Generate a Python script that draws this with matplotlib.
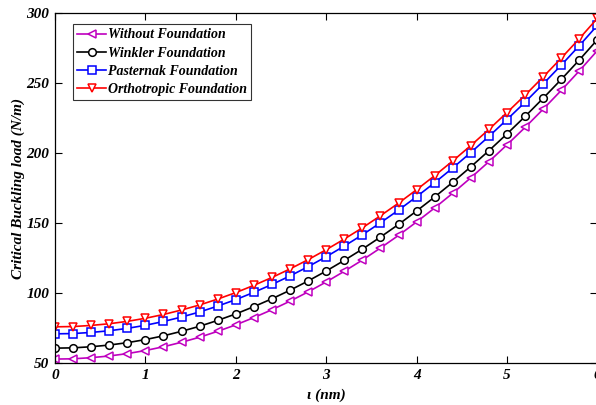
import matplotlib
matplotlib.use("Agg")
import matplotlib.pyplot as plt
import numpy as np

x = [round(0.2 * i, 1) for i in range(31)]
without = [53.0, 53.2, 54.0, 55.2, 56.9, 59.1, 61.8, 65.0, 68.6, 72.8, 77.4, 82.6, 88.2, 94.3, 100.9,
           108.0, 115.6, 123.6, 132.2, 141.2, 150.8, 160.8, 171.3, 182.3, 193.8, 205.8, 218.2, 231.2,
           244.6, 258.5, 273.0]
winkler = [60.8, 61.0, 61.8, 63.0, 64.7, 66.9, 69.6, 72.8, 76.4, 80.6, 85.2, 90.4, 96.0, 102.1, 108.7,
           115.8, 123.4, 131.4, 140.0, 149.0, 158.6, 168.6, 179.1, 190.1, 201.6, 213.6, 226.0, 239.0,
           252.4, 266.3, 280.8]
pasternak = [71.0, 71.2, 72.0, 73.2, 74.9, 77.1, 79.8, 83.0, 86.6, 90.8, 95.4, 100.6, 106.2, 112.3, 118.9,
             126.0, 133.6, 141.6, 150.2, 159.2, 168.8, 178.8, 189.3, 200.3, 211.8, 223.8, 236.2, 249.2,
             262.6, 276.5, 291.0]
orthotropic = [76.0, 76.2, 77.0, 78.2, 79.9, 82.1, 84.8, 88.0, 91.6, 95.8, 100.4, 105.6, 111.2, 117.3, 123.9,
               131.0, 138.6, 146.6, 155.2, 164.2, 173.8, 183.8, 194.3, 205.3, 216.8, 228.8, 241.2, 254.2,
               267.6, 281.5, 296.0]
labels = ["Without Foundation", "Winkler Foundation", "Pasternak Foundation", "Orthotropic Foundation"]
xticks = [0, 1, 2, 3, 4, 5, 6]
yticks = [50, 100, 150, 200, 250, 300]

plt.rcParams['font.family'] = ['Liberation Serif', 'DejaVu Serif']
plt.rcParams['font.weight'] = 'bold'
plt.rcParams['font.style'] = 'italic'

fig = plt.figure(figsize=(5.96, 4.05), dpi=100)
ax = fig.add_axes([0.0923, 0.103, 0.910, 0.8656])

series = [without, winkler, pasternak, orthotropic]
colors = ['#bf00bf', '#000000', '#0000ff', '#ff0000']
markers = ['<', 'o', 's', 'v']
for ys, c, m, lab in zip(series, colors, markers, labels):
    ax.plot(x, ys, color=c, marker=m, markersize=5.5, markerfacecolor='white',
            markeredgecolor=c, markeredgewidth=1.1, linewidth=1.2, label=lab)

ax.set_xlim(0, 6)
ax.set_ylim(50, 300)
ax.set_xticks(xticks)
ax.set_yticks(yticks)
ax.tick_params(direction='in', top=True, right=True, length=5, width=0.8, labelsize=11, pad=4)
for lab in ax.get_xticklabels() + ax.get_yticklabels():
    lab.set_fontweight('bold'); lab.set_fontstyle('italic')
for s in ax.spines.values():
    s.set_linewidth(0.9)

ax.set_xlabel("ι (nm)", fontsize=11, fontweight='bold', fontstyle='italic', labelpad=5)
ax.set_ylabel("Critical Buckling load (N/m)", fontsize=11, fontweight='bold', fontstyle='italic', labelpad=1)

leg = ax.legend(loc='upper left', bbox_to_anchor=(0.033, 0.967), fontsize=10, frameon=True,
                fancybox=False, edgecolor='black', handlelength=2.1, handletextpad=0.15,
                labelspacing=0.38, borderpad=0.3, borderaxespad=0.0)
leg.get_frame().set_linewidth(0.8)
for t in leg.get_texts():
    t.set_fontweight('bold'); t.set_fontstyle('italic')

fig.savefig("out.png", dpi=100)
